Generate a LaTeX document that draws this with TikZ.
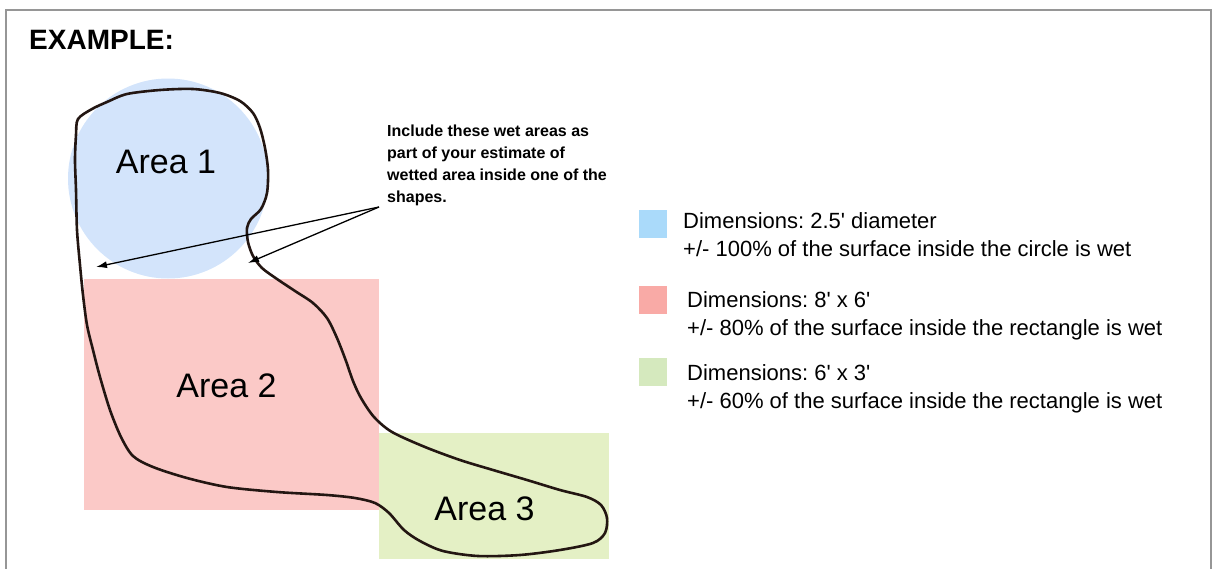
\documentclass[tikz,border=0pt]{standalone}
\usepackage{fontspec}
\setmainfont{Liberation Sans}
\usepackage{tikz}
\usetikzlibrary{
    arrows.meta,
    positioning
}
\usepackage{xcolor}
\definecolor{wetblue}{RGB}{211,228,251}
\definecolor{wetred}{RGB}{251,201,199}
\definecolor{wetgreen}{RGB}{228,240,197}
\definecolor{keyblue}{RGB}{170,218,250}
\definecolor{keyred}{RGB}{249,170,166}
\definecolor{keygreen}{RGB}{213,233,190}
\definecolor{framegray}{RGB}{150,150,150}
\definecolor{outline}{RGB}{35,22,18}
\newcommand{\ft}{\textquotesingle}
\frenchspacing

\begin{document}
\begin{tikzpicture}[
    x=1pt, y=-1pt,
    area/.style={
        inner sep=0pt, anchor=base,
        font=\fontsize{34}{40}\selectfont
    },
    swatch/.style={
        rectangle, minimum width=28pt, minimum height=28pt,
        inner sep=0pt, anchor=north west
    },
    keytext/.style={
        inner sep=0pt, anchor=base west, align=left,
        font=\fontsize{22}{28}\selectfont
    },
    pointer/.style={-{Latex[length=11pt, width=7pt]}, line width=1.3pt}
]

\clip (0,0) rectangle (1212,568);

% Frame
\draw[framegray, line width=2pt] (6,600) -- (6,10) -- (1211,10) -- (1211,600);
\node[inner sep=0pt, anchor=base west, font=\fontsize{28}{34}\selectfont\bfseries] (title) at (29,49) {EXAMPLE:};

% Shapes
\fill[wetblue] (168,178.5) circle[radius=100];
\fill[wetred] (84,279) rectangle (379,510);
\fill[wetgreen] (379,433) rectangle (609,559);

% Wet outline
\draw[outline, line width=2.6pt, line join=round] plot[smooth cycle, tension=0.5] coordinates {
    (76,135) (78,119) (92,109) (107,102) (127,94) (160,90) (193,89) (220,93)
    (240,101) (253,113) (260,128) (265,148) (268,170) (267,193) (261,209)
    (251,219) (247,228) (248,242) (253,256) (262,268) (277,279) (295,291)
    (313,303) (327,318) (337,338) (346,361) (353,381) (361,398) (374,417)
    (392,432) (425,447) (460,460) (493,470) (527,480) (560,490) (587,497)
    (601,505) (607,518) (605,533) (593,543) (560,550) (520,555) (478,556)
    (443,551) (420,541) (404,530) (389,513) (375,503) (355,498) (327,495)
    (277,492) (227,487) (187,478) (153,467) (133,456) (121,437) (110,410)
    (100,377) (93,350) (87,325) (83,295) (80,265) (77,230) (76,190) (75,160)
};

% Labels
\node[area] (a1) at (166,173) {Area 1};
\node[area] (a2) at (226.5,397) {Area 2};
\node[area] (a3) at (484.5,520) {Area 3};

% Note and pointers
\node[inner sep=0pt, anchor=base west, align=left,
      font=\fontsize{16}{22}\selectfont\bfseries] (note) at (387,202)
    {Include these wet areas as\\part of your estimate of\\wetted area inside one of the\\shapes.};
\coordinate (src) at (379,207);
\coordinate (wetL) at (96,267);
\coordinate (wetR) at (248,263);
\draw[pointer] (src) -- (wetL);
\draw[pointer] (src) -- (wetR);

% Legend
\node[swatch, fill=keyblue]  (kb) at (639,210) {};
\node[swatch, fill=keyred]   (kr) at (639,286) {};
\node[swatch, fill=keygreen] (kg) at (639,358) {};
\node[keytext] (tb) at (683,256) {Dimensions: 2.5\ft{} diameter\\+/- 100\% of the surface inside the circle is wet};
\node[keytext] (tr) at (687,335) {Dimensions: 8\ft{} x 6\ft\\+/- 80\% of the surface inside the rectangle is wet};
\node[keytext] (tg) at (687,408) {Dimensions: 6\ft{} x 3\ft\\+/- 60\% of the surface inside the rectangle is wet};

\end{tikzpicture}
\end{document}
